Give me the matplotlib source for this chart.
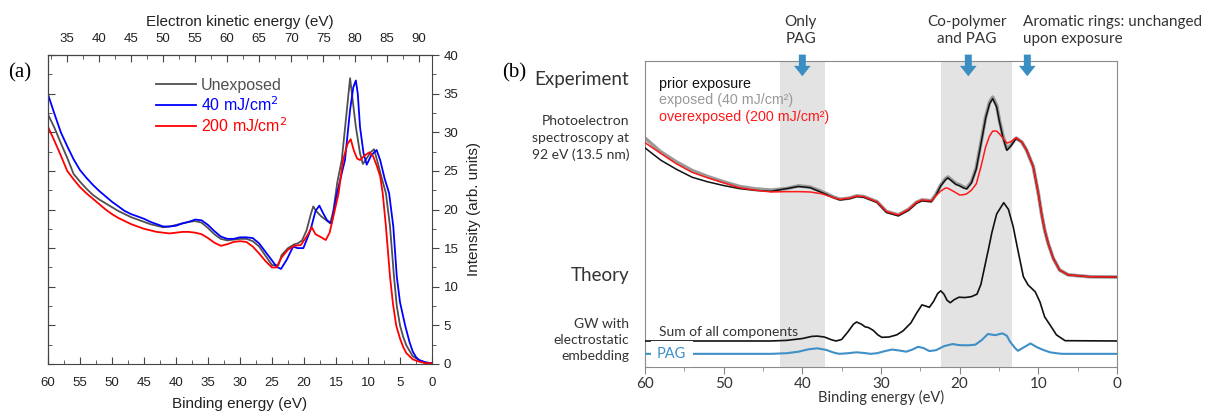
import matplotlib.pyplot as plt
from matplotlib.ticker import MultipleLocator
from matplotlib.lines import Line2D

# ---------------- panel (a) data: binding energy (eV) vs intensity ----------------
be_unexp = [60, 59, 58, 57, 56, 55, 54, 53, 52, 51, 50, 49, 48, 47, 46, 45, 44, 43, 42, 41,
            40, 39, 38, 37, 36, 35, 34, 33, 32, 31, 30, 29, 28, 27, 26, 25,
            24, 23.5, 22.5, 21.5, 21, 20.3, 19.6, 18.9, 18.55, 18.1, 17.3, 16.5, 15.9, 15.4,
            14.8, 14.1, 13.3, 12.8, 12.3, 11.9, 11.25, 10.8, 10.3, 9.6, 9.06, 8.65, 8.0, 7.2,
            6.56, 5.94, 5.5, 5.0, 4.5, 4.0, 3.0, 2.0, 1.0, 0]
i_unexp = [32.3, 30.6, 28.6, 26.7, 24.6, 23.6, 22.7, 21.9, 21.3, 20.8, 20.3, 19.8, 19.4, 19.0,
           18.7, 18.4, 18.1, 17.9, 17.7, 17.8, 18.0, 18.2, 18.4, 18.5, 18.3, 17.6, 16.8, 16.2,
           16.0, 16.1, 16.2, 16.2, 15.9, 15.2, 14.0, 12.8,
           12.8, 14.1, 15.0, 15.5, 15.6, 16.0, 17.3, 19.5, 20.4, 19.8, 19.1, 18.6, 18.2, 19.9,
           23.5, 26.4, 32.9, 37.0, 33.5, 30.7, 27.3, 25.9, 26.5, 27.4, 27.8, 26.6, 24.5, 22.1,
           17.8, 11.3, 7.5, 5.0, 3.5, 2.4, 1.0, 0.5, 0.2, 0.1]

be_40 = [60, 59, 58, 57, 56, 55, 54, 53, 52, 51, 50, 49, 48, 47, 46, 45, 44, 43, 42, 41, 40,
         39, 38, 37, 36, 35, 34, 33, 32, 31, 30, 29, 28, 27, 26, 25,
         24.3, 23.6, 22.7, 21.7, 21, 20.1, 19, 18.2, 17.6, 17, 16.4, 15.7, 15.0, 14.3, 13.6,
         12.8, 12.3, 11.9, 11.6, 11.25, 10.7, 10.2, 9.5, 8.65, 8.1, 7.4, 6.7, 6.05, 5.5, 5.0,
         4.2, 3.5, 3.0, 2.5, 2.0, 1.0, 0]
i_40 = [34.9, 32.4, 30.0, 28.2, 26.5, 25.1, 24.1, 23.2, 22.4, 21.7, 21.0, 20.4, 19.8, 19.4,
        19.1, 18.8, 18.4, 18.1, 17.8, 17.8, 17.9, 18.2, 18.4, 18.7, 18.6, 18.0, 17.2, 16.5,
        16.2, 16.2, 16.4, 16.4, 16.3, 15.6, 14.5, 13.4,
        12.6, 12.3, 13.5, 15.2, 15.0, 15.0, 17.3, 19.8, 20.5, 19.5, 18.6, 18.2, 21.5, 24.0,
        26.4, 32.9, 35.8, 36.7, 35.0, 30.7, 27.3, 25.8, 27.0, 27.7, 26.4, 24.0, 22.1, 17.8,
        11.3, 8.0, 5.0, 2.8, 1.6, 0.9, 0.5, 0.2, 0.1]

be_200 = [60, 59, 58, 57, 56, 55, 54, 53, 52, 51, 50, 49, 48, 47, 46, 45, 44, 43, 42, 41, 40,
          39, 38, 37, 36, 35, 34, 33, 32, 31, 30, 29, 28, 27, 26, 25,
          24.3, 23.5, 22.5, 21.5, 20.5, 19.5, 18.8, 18.2, 17.3, 16.6, 16.0, 15.3, 14.6, 13.9,
          13.2, 12.7, 12.2, 11.7, 11.25, 10.5, 9.8, 9.2, 8.6, 8.1, 7.7, 7.2, 6.56, 6.1, 5.6,
          5.0, 4.5, 4.0, 3.0, 2.0, 1.0, 0]
i_200 = [30.7, 28.9, 27.0, 25.0, 23.9, 22.9, 22.1, 21.4, 20.7, 20.0, 19.4, 18.9, 18.5, 18.1,
         17.8, 17.5, 17.3, 17.1, 17.0, 16.9, 17.0, 17.1, 17.1, 17.0, 16.8, 16.3, 15.7, 15.3,
         15.5, 15.8, 15.9, 15.8, 15.2, 14.3, 13.3, 12.5,
         12.5, 13.8, 14.8, 15.3, 15.4, 16.6, 17.7, 16.8, 16.4, 16.05, 17.0, 19.5, 22.1, 26.4,
         28.5, 29.1, 27.6, 26.6, 26.4, 27.0, 27.4, 26.9, 25.6, 24.3, 22.1, 17.8, 11.3, 7.8,
         5.0, 3.3, 2.2, 1.4, 0.6, 0.3, 0.1, 0.1]

labels_a = ["Unexposed", "40 mJ/cm$^2$", "200 mJ/cm$^2$"]
colors_a = ["#505050", "#0000ff", "#ff0000"]
photon_energy = 92  # kinetic = photon energy - binding energy

# ---------------- panel (b) data ----------------
be_exp = [60, 58, 56, 54, 52, 50, 48, 46, 44, 42, 40.5, 39, 37.5, 36, 35.2, 34, 33.1, 32.2,
          30.5, 29.3, 27.8, 26.5, 25.5, 24.8, 23.6, 23, 22.4, 21.8, 21.5, 21.2, 20.5, 20, 19.5,
          19.1, 18.5, 17.9, 17.3, 16.7, 16.2, 15.8, 15.3, 14.95, 14.5, 14.0, 13.5, 13.0, 12.8,
          12.1, 11.5, 10.65, 10.0, 9.6, 9.2, 8.75, 8.1, 7.3, 6.2, 3.5, 0]
exp_exposed = [74.8, 70.3, 67, 64.2, 62.2, 60.5, 59.0, 58.2, 57.8, 58.3, 59.2, 58.8, 57.3,
               55.5, 54.8, 55.2, 55.9, 55.7, 54.0, 50.8, 49.7, 51.5, 53.8, 54.6, 54.3, 56.5,
               59.5, 61.5, 62.1, 61.5, 60, 59.5, 58.8, 58.5, 60.5, 65, 73.2, 81.7, 86.5, 88.2,
               85.5, 80.7, 75.5, 71.2, 72.5, 74.3, 74.8, 73.5, 70.9, 65.5, 56.7, 50.2, 44.8,
               40.4, 35.5, 31.7, 30.1, 29.5, 29.4]
exp_prior = [71.6, 67.6, 64.6, 62.0, 60.5, 59.3, 58.3, 57.7, 57.4, 58.3, 59.0, 58.6, 57.0,
             55.3, 54.6, 55.0, 55.7, 55.5, 53.8, 50.5, 49.4, 51.2, 53.5, 54.3, 54.0, 56.2,
             59.2, 61.2, 61.8, 61.2, 59.7, 59.2, 58.5, 58.2, 60.2, 64.6, 72.8, 81.3, 86, 87.7,
             85, 80.3, 75, 70.8, 72.2, 74.1, 74.7, 73.5, 70.9, 65.5, 56.7, 50.2, 44.8, 40.4,
             35.5, 31.7, 30.1, 29.5, 29.4]
exp_over = [73.3, 69.8, 66.4, 63.6, 61.8, 60.2, 58.6, 57.8, 57.2, 57.3, 57.3, 57.2, 56.6,
            55.3, 54.8, 55.2, 55.9, 55.7, 54.0, 50.8, 49.7, 51.5, 53.8, 54.6, 54.3, 56.0, 57.5,
            58.5, 58.4, 58.0, 57.0, 56.2, 56.3, 56.6, 57.8, 59.8, 65.4, 71.9, 75.5, 77.1, 77.1,
            76.2, 74.8, 73.2, 73.6, 74.6, 74.9, 73.5, 70.9, 65.5, 56.7, 50.2, 44.8, 40.4, 35.5,
            31.7, 30.1, 29.5, 29.4]

be_sum = [60, 44, 42, 40, 38.8, 38.1, 37.2, 36.3, 35.7, 35, 34.2, 33.5, 33.1, 32.5, 32, 31.6,
          31, 30.4, 29.9, 29, 28, 27.2, 26.2, 25.5, 24.8, 24.3, 23.85, 23.3, 22.8, 22.4, 22.0,
          21.6, 21.2, 20.7, 20.1, 19.3, 18.5, 17.8, 17.3, 16.8, 16.3, 15.9, 15.3, 14.4, 13.8,
          13.2, 12.6, 11.9, 11.3, 10.4, 9.8, 9.2, 8.5, 7.7, 6.6, 0]
th_sum = [8.5, 8.5, 8.7, 9.3, 10.0, 10.1, 9.8, 8.9, 8.5, 9.0, 11.5, 14.0, 14.7, 14.0, 13.1,
          12.9, 12.0, 10.5, 9.7, 9.8, 10.5, 11.8, 14.4, 17.5, 20.3, 19.9, 19.5, 21.5, 24.0,
          24.9, 23.8, 21.8, 21.0, 22.0, 22.8, 22.7, 23.0, 23.8, 27, 33, 39, 44, 50, 53.7,
          51.5, 45.9, 38.2, 29.5, 26.8, 24.6, 21.3, 16.4, 13.7, 10.5, 8.6, 8.5]

be_pag = [60, 44, 42, 40.5, 39.2, 38.1, 37, 36, 35.3, 34.2, 33.1, 32.2, 31.3, 30.5, 29.5,
          28.6, 27.7, 26.8, 26, 25.3, 24.6, 23.85, 23, 22, 20.9, 20.2, 19.7, 18.8, 18, 17.2,
          16.4, 15.5, 14.55, 14.0, 13.6, 13.0, 12.6, 12.0, 11.0, 10.2, 9.4, 8.5, 7.7, 7.0, 0]
th_pag = [4.3, 4.3, 4.5, 5.0, 5.8, 6.1, 5.6, 4.7, 4.3, 4.5, 4.8, 4.6, 4.3, 4.5, 5.2, 5.7,
          5.4, 5.0, 5.7, 6.6, 6.2, 5.2, 5.5, 6.8, 7.5, 7.2, 7.1, 7.1, 7.3, 8.8, 10.8, 10.4,
          11.0, 10.2, 8.3, 6.3, 5.3, 6.2, 7.7, 6.5, 5.6, 4.8, 4.5, 4.3, 4.3]

bands = [(37.1, 42.9), (13.3, 22.4)]
arrow_be = [40.0, 18.9, 11.4]

W, H = 1221, 413
fig = plt.figure(figsize=(W / 100, H / 100), dpi=100)


def fx(px):
    return px / W


def fy(py):
    return 1 - py / H


# ================= panel (a) =================
plt.rcParams['font.family'] = ['Liberation Sans', 'DejaVu Sans']
ax_a = fig.add_axes([fx(48), fy(364), (432 - 48) / W, (364 - 55) / H])
for be, inten, c in zip([be_unexp, be_40, be_200], [i_unexp, i_40, i_200], colors_a):
    ax_a.plot(be, inten, color=c, lw=1.3)

ax_a.set_xlim(60, 0)
ax_a.set_ylim(0, 40)
ax_a.xaxis.set_major_locator(MultipleLocator(5))
ax_a.xaxis.set_minor_locator(MultipleLocator(2.5))
ax_a.yaxis.set_major_locator(MultipleLocator(5))
ax_a.yaxis.set_minor_locator(MultipleLocator(2.5))
ax_a.tick_params(axis='x', which='both', direction='in', colors='#444', labelcolor='#222',
                 labelsize=9.5, pad=9)
ax_a.tick_params(axis='x', which='major', length=5)
ax_a.tick_params(axis='x', which='minor', length=3)
ax_a.tick_params(axis='y', which='both', direction='out', left=False, labelleft=False,
                 right=True, labelright=True, colors='#444', labelcolor='#222', labelsize=9.5)
ax_a.tick_params(axis='y', which='major', length=5)
ax_a.tick_params(axis='y', which='minor', length=3)
ax_a.yaxis.set_label_position('right')
ax_a.set_ylabel("Intensity (arb. units)", fontsize=11, color='#222', labelpad=6)
ax_a.set_xlabel("Binding energy (eV)", fontsize=11, color='#222', labelpad=6)
for s in ax_a.spines.values():
    s.set_color('#444')

left_a = ax_a.secondary_yaxis('left')
left_a.yaxis.set_major_locator(MultipleLocator(5))
left_a.yaxis.set_minor_locator(MultipleLocator(2.5))
left_a.tick_params(which='both', direction='in', labelleft=False, colors='#444')
left_a.tick_params(which='major', length=5)
left_a.tick_params(which='minor', length=3)

top_a = ax_a.secondary_xaxis('top', functions=(lambda b: photon_energy - b,
                                               lambda k: photon_energy - k))
top_a.set_xticks(range(35, 91, 5))
top_a.xaxis.set_minor_locator(MultipleLocator(2.5))
top_a.tick_params(which='both', direction='in', colors='#444', labelcolor='#222',
                  labelsize=9.5, pad=7)
top_a.tick_params(which='major', length=5)
top_a.tick_params(which='minor', length=3)
top_a.set_xlabel("Electron kinetic energy (eV)", fontsize=11, color='#222', labelpad=5)

handles = [Line2D([], [], color=c, lw=1.3) for c in colors_a]
ax_a.legend(handles, labels_a, frameon=False, loc='upper left',
            bbox_to_anchor=(fx(156), fy(78)), bbox_transform=fig.transFigure,
            handlelength=2.5, handletextpad=0.3, labelspacing=0.14, fontsize=11.5,
            labelcolor=colors_a, borderaxespad=0, borderpad=0)

fig.text(fx(8), fy(73), "(a)", family='Liberation Serif', fontsize=15, va='center')

# ================= panel (b) =================
bfont = ['Lato', 'DejaVu Sans']
ax_b = fig.add_axes([fx(645), fy(367), (1117 - 645) / W, (367 - 61) / H])
for lo, hi in bands:
    ax_b.axvspan(lo, hi, color='#e3e3e3', lw=0, zorder=0)

ax_b.plot(be_exp, exp_exposed, color='#9a9a9a', lw=2.6, zorder=2)
ax_b.plot(be_exp, exp_prior, color='#111111', lw=1.1, zorder=3)
ax_b.plot(be_exp, exp_over, color='#ff1a1a', lw=1.1, zorder=4)
ax_b.plot(be_sum, th_sum, color='#111111', lw=1.2, zorder=3)
ax_b.plot(be_pag, th_pag, color='#4090c8', lw=1.5, zorder=3)

ax_b.set_xlim(60, 0)
ax_b.set_ylim(0, 100)
ax_b.set_yticks([])
ax_b.xaxis.set_major_locator(MultipleLocator(10))
ax_b.xaxis.set_minor_locator(MultipleLocator(5))
ax_b.tick_params(axis='x', which='both', direction='out', colors='#888', labelcolor='#333',
                 labelsize=11, pad=2.5)
ax_b.tick_params(axis='x', which='major', length=5)
ax_b.tick_params(axis='x', which='minor', length=3)
for lab in ax_b.get_xticklabels():
    lab.set_family(bfont)
ax_b.set_xlabel("Binding energy (eV)", family=bfont, fontsize=10.5, color='#333', labelpad=-1)
for s in ax_b.spines.values():
    s.set_color('#8a8a8a')

for be in arrow_be:
    ax_b.annotate('', xy=(be, 0.941), xytext=(be, 1.03), xycoords=ax_b.get_xaxis_transform(),
                  annotation_clip=False,
                  arrowprops=dict(arrowstyle='simple,head_length=0.75,head_width=1.2,tail_width=0.5',
                                  color='#3b8ec2', lw=0, mutation_scale=10))

tr = ax_b.get_xaxis_transform()
ax_b.text(40.2, 1.10, "Only\nPAG", transform=tr, ha='center', va='center', family=bfont,
          fontsize=11, color='#333', linespacing=1.3, clip_on=False)
ax_b.text(19.1, 1.10, "Co-polymer\nand PAG", transform=tr, ha='center', va='center',
          family=bfont, fontsize=11, color='#333', linespacing=1.3, clip_on=False)
ax_b.text(11.9, 1.10, "Aromatic rings: unchanged\nupon exposure", transform=tr, ha='left',
          va='center', family=bfont, fontsize=11, color='#333', linespacing=1.3, clip_on=False)

ax_b.text(58.2, 92.5, "prior exposure", fontsize=10.3, color='#111', va='center')
ax_b.text(58.2, 87.1, "exposed (40 mJ/cm²)", fontsize=10.3, color='#999', va='center')
ax_b.text(58.2, 81.8, "overexposed (200 mJ/cm²)", fontsize=10.3, color='#ff1a1a',
          va='center')

ax_b.text(58.2, 11.6, "Sum of all components", family=bfont, fontsize=10, color='#333',
          va='center')
ax_b.text(56.6, 4.3, "PAG", family=bfont, fontsize=10.5, color='#4090c8', ha='center',
          va='center', zorder=5, bbox=dict(fc='white', ec='none', pad=4.5))

fig.text(fx(502), fy(73), "(b)", family='Liberation Serif', fontsize=15, va='center')
fig.text(fx(629), fy(80), "Experiment", family=bfont, fontsize=13.5, color='#333',
         ha='right', va='center')
fig.text(fx(629), fy(138), "Photoelectron\nspectroscopy at\n92 eV (13.5 nm)", family=bfont,
         fontsize=10, color='#333', ha='right', va='center', linespacing=1.45)
fig.text(fx(629), fy(276), "Theory", family=bfont, fontsize=13.5, color='#333',
         ha='right', va='center')
fig.text(fx(629), fy(340), "GW with\nelectrostatic\nembedding", family=bfont,
         fontsize=10, color='#333', ha='right', va='center', linespacing=1.45)

fig.savefig("out.png", dpi=100)
